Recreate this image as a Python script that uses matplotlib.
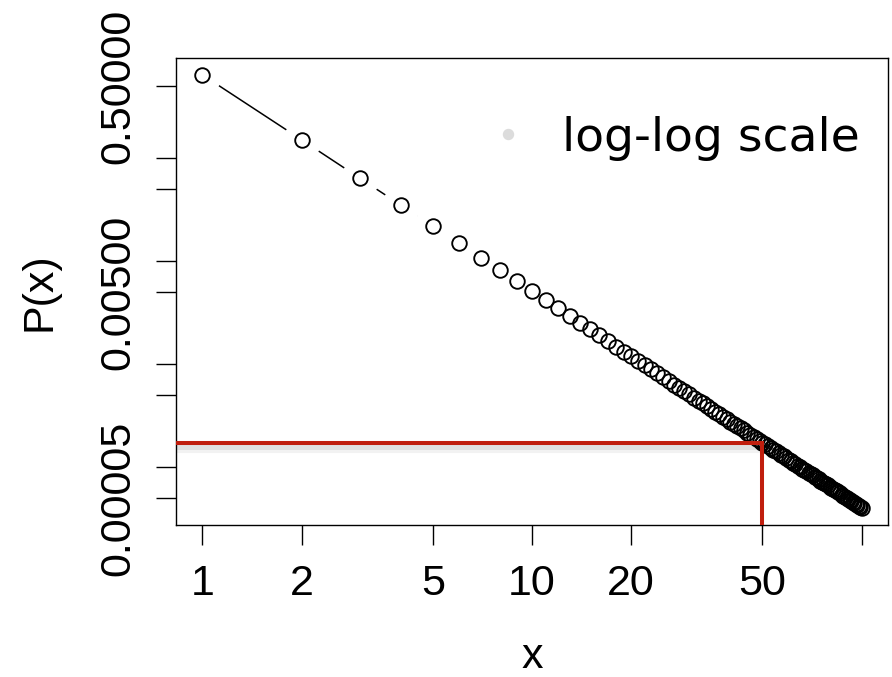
import matplotlib
matplotlib.use('Agg')
import matplotlib.pyplot as plt
import matplotlib.patheffects as pe
from matplotlib.lines import Line2D
from matplotlib.ticker import NullLocator
import numpy as np

# degree values k = 1..100 and their probabilities P(k)
x = np.arange(1, 101)
p = np.array([
    0.641, 0.15, 0.0638, 0.0349, 0.0218, 0.0149, 0.0108, 0.00814, 0.00635, 0.00509,
    0.00417, 0.00347, 0.00293, 0.00251, 0.00217, 0.0019, 0.00167, 0.00148, 0.00132, 0.00119,
    0.00107, 0.000972, 0.000886, 0.00081, 0.000743, 0.000685, 0.000632, 0.000586, 0.000544, 0.000507,
    0.000473, 0.000443, 0.000415, 0.00039, 0.000367, 0.000346, 0.000326, 0.000309, 0.000292, 0.000277,
    0.000263, 0.00025, 0.000238, 0.000227, 0.000216, 0.000207, 0.000197, 0.000189, 0.000181, 0.000173,
    0.000166, 0.00016, 0.000153, 0.000148, 0.000142, 0.000137, 0.000132, 0.000127, 0.000122, 0.000118,
    0.000114, 0.00011, 0.000107, 0.000103, 9.99e-05, 9.68e-05, 9.38e-05, 9.09e-05, 8.82e-05, 8.55e-05,
    8.3e-05, 8.06e-05, 7.83e-05, 7.61e-05, 7.4e-05, 7.2e-05, 7e-05, 6.81e-05, 6.64e-05, 6.46e-05,
    6.3e-05, 6.14e-05, 5.98e-05, 5.83e-05, 5.69e-05, 5.55e-05, 5.42e-05, 5.29e-05, 5.17e-05, 5.05e-05,
    4.93e-05, 4.82e-05, 4.71e-05, 4.61e-05, 4.5e-05, 4.41e-05, 4.31e-05, 4.22e-05, 4.13e-05, 4.04e-05,
])

x_ticks = [1, 2, 5, 10, 20, 50, 100]
x_ticklabels = ['1', '2', '5', '10', '20', '50', '']
y_ticks = [5e-5, 1e-4, 5e-4, 1e-3, 5e-3, 1e-2, 5e-2, 1e-1, 5e-1]
y_ticklabels = ['0.00005', '', '', '', '0.00500', '', '', '', '0.50000']
x_cut = 50

plt.rcParams['font.family'] = 'Liberation Sans'

fig = plt.figure(figsize=(8.92, 6.77), dpi=100)
ax = fig.add_axes([176 / 892, 152 / 677, 712 / 892, 467.5 / 677])
ax.set_xscale('log')
ax.set_yscale('log')

# 4% padding in log space, like base R
lx = np.log10([x.min(), x.max()])
ly = np.log10([p.min(), p.max()])
dx = 0.04 * (lx[1] - lx[0])
dy = 0.04 * (ly[1] - ly[0])
ax.set_xlim(10 ** (lx[0] - dx), 10 ** (lx[1] + dx))
ax.set_ylim(10 ** (ly[0] - dy), 10 ** (ly[1] + dy))

# line with gaps around each point (type = "b")
ax.plot(x, p, '-', color='black', lw=1.1, zorder=2)
ax.plot(x, p, 'o', ms=28, mfc='white', mec='none', zorder=2.1)
ax.plot(x, p, 'o', ms=10.5, mfc='none', mec='black', mew=1.35, zorder=2.2)

# cutoff guide at x = 50
p_cut = p[x == x_cut][0]
red = '#C01E0E'
shadow = [pe.SimpleLineShadow(offset=(0.5, -3.0), shadow_color='black', alpha=0.05, linewidth=8),
          pe.SimpleLineShadow(offset=(0.5, -2.2), shadow_color='black', alpha=0.07, linewidth=5),
          pe.Normal()]
ax.plot([ax.get_xlim()[0], x_cut], [p_cut, p_cut], color=red, lw=2.9,
        solid_capstyle='projecting', path_effects=shadow, zorder=3)
ax.plot([x_cut, x_cut], [ax.get_ylim()[0], p_cut], color=red, lw=2.9,
        solid_capstyle='butt', zorder=3)

ax.set_xticks(x_ticks)
ax.set_xticklabels(x_ticklabels)
ax.set_yticks(y_ticks)
ax.set_yticklabels(y_ticklabels, rotation=90, va='center')
ax.xaxis.set_minor_locator(NullLocator())
ax.yaxis.set_minor_locator(NullLocator())
ax.tick_params(axis='both', length=14.4, width=1, labelsize=31, colors='black')
ax.tick_params(axis='x', pad=14)
ax.tick_params(axis='y', pad=13)
for s in ax.spines.values():
    s.set_linewidth(1)

ax.set_xlabel('x', fontsize=31)
ax.set_ylabel('P(x)', fontsize=31)
ax.xaxis.set_label_coords(0.5, -0.24)
ax.yaxis.set_label_coords(-0.164, 0.5)

handle = Line2D([], [], ls='none', marker='o', ms=7.2, color='#DCDCDC')
ax.legend([handle], ['log-log scale'], loc='upper left', bbox_to_anchor=(0.433, 0.875),
          frameon=False, borderpad=0, borderaxespad=0, handlelength=1.0, handletextpad=0.644,
          prop={'family': 'DejaVu Sans', 'size': 34})

fig.savefig('out.png', dpi=100)
